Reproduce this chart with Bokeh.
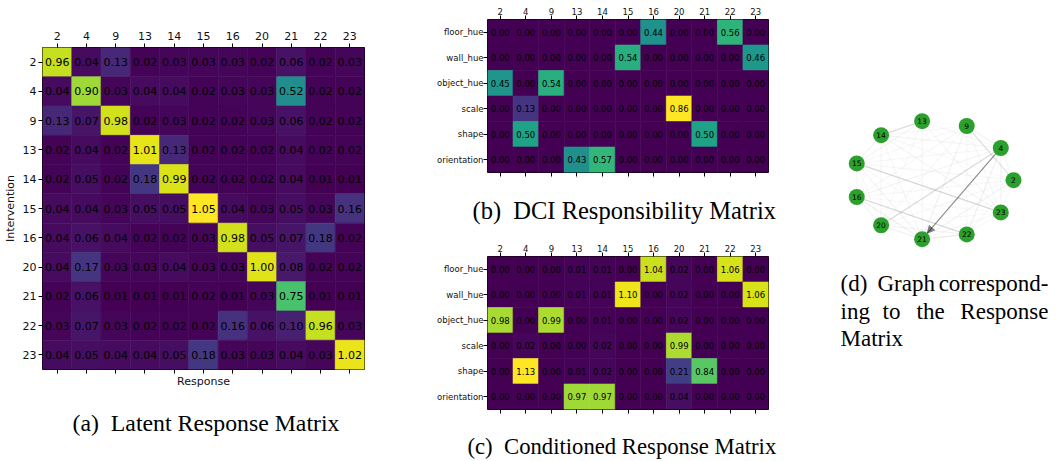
import math
from bokeh.plotting import figure
from bokeh.models import (ColumnDataSource, LinearColorMapper, CategoricalAxis, Title,
                          Range1d, Arrow, NormalHead)
from bokeh.layouts import row, column
from bokeh.embed import file_html
from bokeh.resources import INLINE
from bokeh.palettes import Viridis256
from bokeh.transform import transform
from bokeh.core.properties import value

# ---------------- data ----------------
interventions = ["2", "4", "9", "13", "14", "15", "16", "20", "21", "22", "23"]
responses = ["2", "4", "9", "13", "14", "15", "16", "20", "21", "22", "23"]
factors = ["floor_hue", "wall_hue", "object_hue", "scale", "shape", "orientation"]

latent = [
    [0.96, 0.04, 0.13, 0.02, 0.03, 0.03, 0.03, 0.02, 0.06, 0.02, 0.03],
    [0.04, 0.90, 0.03, 0.04, 0.04, 0.02, 0.03, 0.03, 0.52, 0.02, 0.02],
    [0.13, 0.07, 0.98, 0.02, 0.03, 0.02, 0.02, 0.03, 0.06, 0.02, 0.02],
    [0.02, 0.04, 0.02, 1.01, 0.13, 0.02, 0.02, 0.02, 0.04, 0.02, 0.02],
    [0.02, 0.05, 0.02, 0.18, 0.99, 0.02, 0.02, 0.02, 0.04, 0.01, 0.01],
    [0.04, 0.04, 0.03, 0.05, 0.05, 1.05, 0.04, 0.03, 0.05, 0.03, 0.16],
    [0.04, 0.06, 0.04, 0.02, 0.02, 0.03, 0.98, 0.05, 0.07, 0.18, 0.02],
    [0.04, 0.17, 0.03, 0.03, 0.04, 0.03, 0.03, 1.00, 0.08, 0.02, 0.02],
    [0.02, 0.06, 0.01, 0.01, 0.01, 0.02, 0.01, 0.03, 0.75, 0.01, 0.01],
    [0.03, 0.07, 0.03, 0.02, 0.02, 0.02, 0.16, 0.06, 0.10, 0.96, 0.03],
    [0.04, 0.05, 0.04, 0.04, 0.05, 0.18, 0.03, 0.03, 0.04, 0.03, 1.02],
]

dci = [
    [0.00, 0.00, 0.00, 0.00, 0.00, 0.00, 0.44, 0.00, 0.00, 0.56, 0.00],
    [0.00, 0.00, 0.00, 0.00, 0.00, 0.54, 0.00, 0.00, 0.00, 0.00, 0.46],
    [0.45, 0.00, 0.54, 0.00, 0.00, 0.00, 0.00, 0.00, 0.00, 0.00, 0.00],
    [0.00, 0.13, 0.00, 0.00, 0.00, 0.00, 0.00, 0.86, 0.00, 0.00, 0.00],
    [0.00, 0.50, 0.00, 0.00, 0.00, 0.00, 0.00, 0.00, 0.50, 0.00, 0.00],
    [0.00, 0.00, 0.00, 0.43, 0.57, 0.00, 0.00, 0.00, 0.00, 0.00, 0.00],
]

conditioned = [
    [0.00, 0.00, 0.00, 0.01, 0.01, 0.00, 1.04, 0.02, 0.00, 1.06, 0.00],
    [0.00, 0.00, 0.00, 0.01, 0.01, 1.10, 0.00, 0.02, 0.00, 0.00, 1.06],
    [0.98, 0.00, 0.99, 0.00, 0.01, 0.00, 0.00, 0.02, 0.00, 0.00, 0.00],
    [0.00, 0.02, 0.00, 0.00, 0.02, 0.00, 0.00, 0.99, 0.00, 0.00, 0.00],
    [0.00, 1.13, 0.00, 0.01, 0.02, 0.00, 0.00, 0.21, 0.84, 0.00, 0.00],
    [0.00, 0.00, 0.00, 0.97, 0.97, 0.00, 0.00, 0.04, 0.00, 0.00, 0.00],
]

NB = "\u00a0"
captions = ["(a)" + NB + NB + "Latent Response Matrix",
            "(b)" + NB + NB + "DCI Responsibility Matrix",
            "(c)" + NB + NB + "Conditioned Response Matrix"]
caption_d = [["(d)", "Graph", "correspond-"], ["ing", "to", "the", "Response"], ["Matrix"]]

SANS = "DejaVu Sans"
SERIF = "Liberation Serif"


def style_axis(ax, fs, tick_out=4, standoff=2):
    ax.axis_line_color = None
    ax.major_tick_in = 0
    ax.major_tick_out = tick_out
    ax.major_tick_line_color = "black"
    ax.major_tick_line_width = 1
    ax.minor_tick_line_color = None
    ax.major_label_text_font = SANS
    ax.major_label_text_font_size = fs
    ax.major_label_text_color = "#111111"
    ax.major_label_standoff = standoff
    ax.axis_label_text_font = SANS
    ax.axis_label_text_font_style = "normal"
    ax.axis_label_text_font_size = fs
    ax.axis_label_text_color = "#111111"


def heatmap(mat, rows, cols, fw, fh, mb, cell_fs, tick_fs, caption, cap_fs, cap_standoff,
            cap_offset, xlabel=None, ylabel=None, tick_out=4, standoff=2, top_standoff=2):
    vals = [v for r in mat for v in r]
    mapper = LinearColorMapper(palette=Viridis256, low=min(vals), high=max(vals))
    xs, ys, vs, ts = [], [], [], []
    for i, r in enumerate(rows):
        for j, c in enumerate(cols):
            xs.append(c)
            ys.append(r)
            vs.append(mat[i][j])
            ts.append(f"{mat[i][j]:.2f}")
    src = ColumnDataSource(dict(x=xs, y=ys, v=vs, t=ts))
    p = figure(x_range=list(cols), y_range=list(reversed(rows)), x_axis_location="above",
               frame_width=fw, frame_height=fh,
               min_border_left=mb[0], min_border_right=mb[1],
               min_border_top=mb[2], min_border_bottom=mb[3],
               output_backend="svg", toolbar_location=None, tools="")
    p.rect("x", "y", 1, 1, source=src, fill_color=transform("v", mapper),
           line_color=transform("v", mapper), line_width=0.6)
    p.text("x", "y", text="t", source=src, text_align="center", text_baseline="middle",
           text_font=value(SANS), text_font_size=cell_fs, text_color="black")
    p.grid.visible = False
    p.outline_line_color = "black"
    p.outline_line_width = 1
    p.outline_line_alpha = 1
    p.background_fill_color = "white"
    p.border_fill_color = "white"
    for ax in p.yaxis:
        style_axis(ax, tick_fs, tick_out, standoff)
    for ax in p.xaxis:
        style_axis(ax, tick_fs, tick_out, top_standoff)
    bax = CategoricalAxis()
    style_axis(bax, "1px", tick_out, 0)
    bax.major_label_overrides = {c: "" for c in cols}
    if xlabel:
        bax.axis_label = xlabel
        bax.axis_label_text_font_size = tick_fs
        bax.axis_label_standoff = -3
    p.add_layout(bax, "below")
    if ylabel:
        p.yaxis.axis_label = ylabel
        p.yaxis.axis_label_standoff = 3
    p.add_layout(Title(text=caption, align="left", offset=cap_offset, text_font=SERIF,
                       text_font_size=cap_fs, text_font_style="normal",
                       text_color="black", standoff=cap_standoff), "below")
    return p


# borders: (left, right, top, bottom)
pa = heatmap(latent, interventions, responses, 322, 322, (37, 53, 47, 80), "11px", "11px",
             captions[0], "23.8px", 35, 30, xlabel="Response", ylabel="Intervention",
             top_standoff=4)
pb = heatmap(dci, factors, responses, 281, 153, (70, 29, 19, 64), "8.5px", "8.5px",
             captions[1], "24.5px", 29, -15, tick_out=4, standoff=0, top_standoff=1)
pc = heatmap(conditioned, factors, responses, 281, 153, (70, 29, 18, 62), "8.5px", "8.5px",
             captions[2], "22.7px", 28, -20, tick_out=4, standoff=0, top_standoff=1)

# ---------------- graph panel (frame aligned with panel a; page-pixel data units) -----
pd_ = figure(frame_width=252, frame_height=322,
             x_range=Range1d(800, 1052), y_range=Range1d(371, 49),
             x_axis_type=None, y_axis_type=None,
             min_border_left=0, min_border_right=0, min_border_top=47, min_border_bottom=80,
             output_backend="svg", toolbar_location=None, tools="")
pd_.grid.visible = False
pd_.outline_line_color = None

n = len(interventions)
cx, cy, rx, ry = 936.0, 181.7, 80.0, 59.6
px = [cx + rx * math.cos(2 * math.pi * k / n) for k in range(n)]
py = [cy - ry * math.sin(2 * math.pi * k / n) for k in range(n)]

x0, y0, x1, y1, al = [], [], [], [], []
best = None
for i in range(n):
    for j in range(i + 1, n):
        w = max(latent[i][j], latent[j][i])
        x0.append(px[i]); y0.append(py[i]); x1.append(px[j]); y1.append(py[j])
        al.append(min(1.0, 0.85 * w))
for i in range(n):
    for j in range(n):
        if i != j and (best is None or latent[i][j] > best[0]):
            best = (latent[i][j], i, j)
esrc = ColumnDataSource(dict(x0=x0, y0=y0, x1=x1, y1=y1, a=al))
pd_.segment(x0="x0", y0="y0", x1="x1", y1="y1", source=esrc,
            line_color="black", line_alpha="a", line_width=1.2)

w, i, j = best
dx, dy = px[j] - px[i], py[j] - py[i]
L = math.hypot(dx, dy)
r_node = 8.0
pd_.add_layout(Arrow(end=NormalHead(size=7, fill_color="#808080", line_color="#808080"),
                     x_start=px[i] + dx / L * r_node, y_start=py[i] + dy / L * r_node,
                     x_end=px[j] - dx / L * r_node, y_end=py[j] - dy / L * r_node,
                     line_color="#808080", line_alpha=0.0, level="underlay"))

nsrc = ColumnDataSource(dict(x=px, y=py, t=interventions))
pd_.scatter("x", "y", source=nsrc, size=16, fill_color="#2ca02c", line_color=None)
pd_.text("x", "y", text="t", source=nsrc, text_align="center", text_baseline="middle",
         text_font=value(SANS), text_font_size="7.5px", text_color="black")

# caption (d), justified lines (page-pixel positions)
cap_x = [843, 880, 1051, 843, 885, 919, 1051, 843]
cap_y = [285.3, 285.3, 285.3, 312.7, 312.7, 312.7, 312.7, 340]
cap_al = ["left", "left", "right", "left", "left", "left", "right", "left"]
cap_t = [w_ for line in caption_d for w_ in line]
pd_.text(x=cap_x, y=cap_y, text=cap_t, text_align=cap_al, text_baseline="alphabetic",
         text_font=value(SERIF), text_font_size="23px", text_color="black")

layout = row(pa, column(pb, pc), pd_)
open("out.html", "w").write(file_html(layout, INLINE))
